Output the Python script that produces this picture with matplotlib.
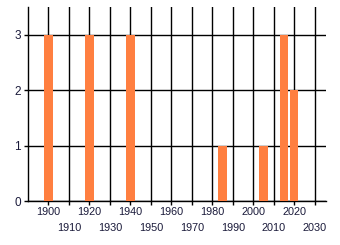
import matplotlib
matplotlib.use("Agg")
import matplotlib.pyplot as plt
from matplotlib.ticker import FixedLocator

years = [1900, 1920, 1940, 1985, 2005, 2015, 2020]
counts = [3, 3, 3, 1, 1, 3, 2]
upper_ticks = [1900, 1920, 1940, 1960, 1980, 2000, 2020]
lower_ticks = [1910, 1930, 1950, 1970, 1990, 2010, 2030]
y_ticks = [0, 1, 2, 3]

plt.rcParams['font.family'] = ['Liberation Sans', 'DejaVu Sans']

fig = plt.figure(figsize=(3.4, 2.45), dpi=100)
ax = fig.add_axes([28/340, 1-201/245, 298/340, 194/245])

ax.bar(years, counts, width=4, color='#FF7F40', zorder=3)

ax.set_xlim(1890, 2035.5)
ax.set_ylim(0, 3.5)

ax.xaxis.set_major_locator(FixedLocator(upper_ticks))
ax.xaxis.set_minor_locator(FixedLocator(lower_ticks))
ax.set_xticklabels([str(t) for t in upper_ticks])
ax.set_xticklabels([str(t) for t in lower_ticks], minor=True)
ax.set_yticks(y_ticks)

ax.tick_params(axis='x', which='major', length=3, width=1, color='black', pad=1.5, labelsize=7.8, labelcolor='#1a1a3a')
ax.tick_params(axis='x', which='minor', length=3, width=1, color='black', pad=12.5, labelsize=7.8, labelcolor='#1a1a3a')
ax.tick_params(axis='y', length=3, width=1, color='black', pad=2, labelsize=8.5, labelcolor='#1a1a3a')

ax.grid(True, which='both', axis='x', color='black', linewidth=1, zorder=0)
ax.grid(True, which='major', axis='y', color='black', linewidth=1, zorder=0)
ax.set_axisbelow(True)

for s in ['top', 'right']:
    ax.spines[s].set_visible(False)
for s in ['left', 'bottom']:
    ax.spines[s].set_color('black')
    ax.spines[s].set_linewidth(1)

fig.savefig('out.png', dpi=100)
